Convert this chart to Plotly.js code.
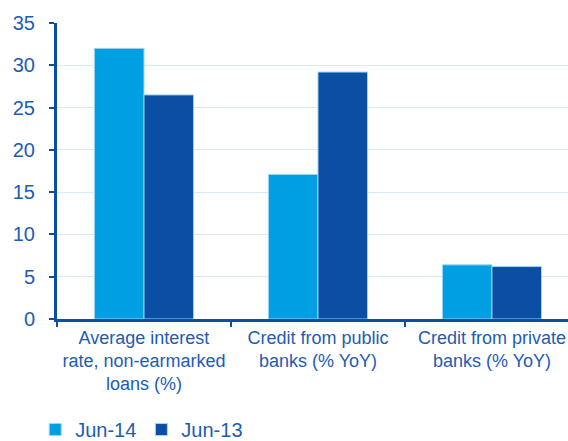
<!DOCTYPE html>
<html>
<head>
<meta charset="utf-8">
<script src="https://cdn.plot.ly/plotly-3.0.1.min.js"></script>
<style>html,body{margin:0;padding:0;background:#fff;}#chart{width:568px;height:441px;}</style>
</head>
<body>
<div id="chart"></div>
<script>
const categories = [
  "Average interest<br>rate, non-earmarked<br>loans (%)",
  "Credit from public<br>banks (% YoY)",
  "Credit from private<br>banks (% YoY)"
];
const seriesNames = ["Jun-14", "Jun-13"];
const jun14 = [32.0, 17.1, 6.4];
const jun13 = [26.5, 29.2, 6.2];
const yTicks = [0, 5, 10, 15, 20, 25, 30, 35];

const font = "Liberation Sans, Arial, sans-serif";
const txtColor = "#1D5CB4";
const axisColor = "#0B4EA2";

const traces = [
  {type: "bar", name: seriesNames[0], x: categories, y: jun14,
   marker: {color: "#009FE3", line: {color: "#9FD6F2", width: 1}}},
  {type: "bar", name: seriesNames[1], x: categories, y: jun13,
   marker: {color: "#0A4FA3", line: {color: "#9FD6F2", width: 1}}}
];

const layout = {
  width: 568, height: 441,
  margin: {l: 57, r: 0, t: 23, b: 122, pad: 0},
  paper_bgcolor: "#fff", plot_bgcolor: "#fff",
  font: {family: font, color: txtColor, size: 18},
  barmode: "group",
  bargap: 0.43,
  bargroupgap: 0,
  showlegend: true,
  legend: {
    orientation: "h", xref: "container", yref: "container",
    x: 0.062, xanchor: "left", y: 0.026, yanchor: "middle",
    font: {family: font, size: 20, color: txtColor},
    bgcolor: "rgba(0,0,0,0)", traceorder: "normal"
  },
  xaxis: {
    type: "category",
    range: [-0.5, 2.437],
    showline: true, linecolor: axisColor, linewidth: 3,
    ticks: "outside", tickson: "boundaries", ticklen: 5, tickwidth: 2, tickcolor: axisColor,
    showgrid: false, zeroline: false,
    tickfont: {family: font, size: 18, color: txtColor},
    fixedrange: true
  },
  yaxis: {
    range: [0, 35],
    tickvals: yTicks,
    ticktext: yTicks.map(String),
    showline: true, linecolor: axisColor, linewidth: 3,
    ticks: "outside", ticklen: 5, tickwidth: 2, tickcolor: axisColor,
    ticklabelstandoff: 10,
    showgrid: true, gridcolor: "#D3ECF8", gridwidth: 1,
    zeroline: false,
    tickfont: {family: font, size: 20, color: txtColor},
    fixedrange: true
  }
};

Plotly.newPlot("chart", traces, layout, {displayModeBar: false, staticPlot: true});
</script>
</body>
</html>
